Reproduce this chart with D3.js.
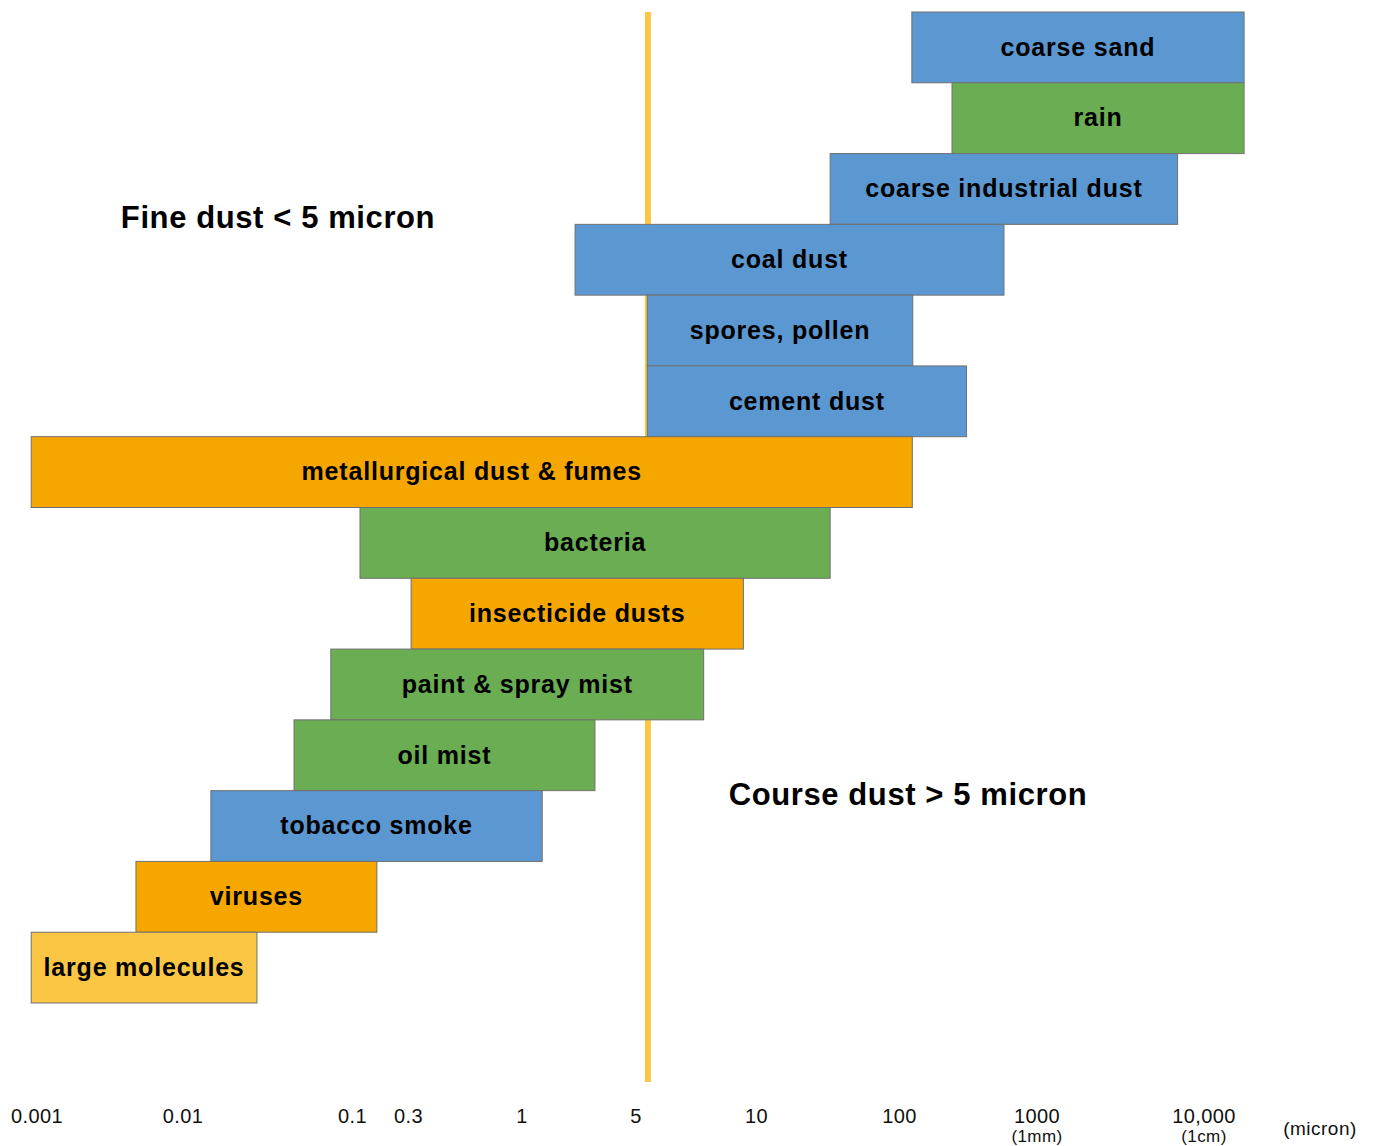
<!DOCTYPE html>
<html>
<head>
  <title>Particle sizes</title>
  <script src="https://cdn.jsdelivr.net/npm/d3@7"></script>
  <style>
    body { margin: 0; background: #fff; font-family: "Liberation Sans", Arial, sans-serif; }
    svg { display: block; }
  </style>
</head>
<body>
  <div id="chart"></div>
  <script>
    // particle types, top to bottom
    const names = ["coarse sand", "rain", "coarse industrial dust", "coal dust", "spores, pollen",
      "cement dust", "metallurgical dust & fumes", "bacteria", "insecticide dusts",
      "paint & spray mist", "oil mist", "tobacco smoke", "viruses", "large molecules"];
    // size range in micron
    const lows  = [124, 243, 33, 2.13, 5.35, 5.35, 0.00092, 0.117, 0.31, 0.075, 0.0455, 0.0147, 0.0048, 0.00092];
    const highs = [17500, 17500, 7000, 580, 126, 310, 125, 33, 9.3, 7.4, 2.82, 1.34, 0.163, 0.0275];
    const groups = ["b", "g", "b", "b", "b", "b", "o", "g", "o", "g", "g", "b", "o", "y"];

    const tickValues = [0.001, 0.01, 0.1, 0.3, 1, 5, 10, 100, 1000, 10000];
    const tickLabels = ["0.001", "0.01", "0.1", "0.3", "1", "5", "10", "100", "1000", "10,000"];
    const subLabels = {1000: "(1mm)", 10000: "(1cm)"};
    const threshold = 5.37; // where the 5 micron line is drawn

    const width = 1373, height = 1146;

    const svg = d3.select("#chart").append("svg")
      .attr("width", width)
      .attr("height", height);

    // the diagram's axis is not a regular log scale, so piecewise
    const x = d3.scaleLog()
      .domain(tickValues)
      .range([36.5, 182.5, 352, 408, 521.5, 635.5, 756, 899, 1036.5, 1203.5]);

    const y = d3.scaleBand()
      .domain(names)
      .range([12, 1003])
      .padding(0);

    const color = d3.scaleOrdinal()
      .domain(["b", "g", "o", "y"])
      .range(["#5b97d0", "#6aad52", "#f5a700", "#fbc643"]);

    const rows = names.map((n, i) => ({name: n, lo: lows[i], hi: highs[i], group: groups[i]}));

    // 5 micron divider, behind the bars
    svg.append("line")
      .attr("x1", x(threshold)).attr("x2", x(threshold))
      .attr("y1", 12).attr("y2", 1082)
      .attr("stroke", "#fdc544")
      .attr("stroke-width", 6);

    svg.selectAll("rect.bar")
      .data(rows)
      .join("rect")
        .attr("class", "bar")
        .attr("x", d => x(d.lo))
        .attr("y", d => y(d.name))
        .attr("width", d => x(d.hi) - x(d.lo))
        .attr("height", y.bandwidth())
        .attr("fill", d => color(d.group))
        .attr("stroke", "#707070")
        .attr("stroke-width", 1);

    svg.selectAll("text.label")
      .data(rows)
      .join("text")
        .attr("class", "label")
        .attr("x", d => (x(d.lo) + x(d.hi)) / 2)
        .attr("y", d => y(d.name) + y.bandwidth() / 2)
        .attr("dy", "0.33em")
        .attr("text-anchor", "middle")
        .style("font-size", "25px")
        .style("font-weight", "bold")
        .style("letter-spacing", "0.8px")
        .text(d => d.name);

    svg.append("text")
      .attr("x", 278).attr("y", 228)
      .attr("text-anchor", "middle")
      .style("font-size", "31px").style("font-weight", "bold").style("letter-spacing", "0.6px")
      .text("Fine dust < 5 micron");

    svg.append("text")
      .attr("x", 908).attr("y", 805)
      .attr("text-anchor", "middle")
      .style("font-size", "31px").style("font-weight", "bold").style("letter-spacing", "0.6px")
      .text("Course dust > 5 micron");

    // axis
    const axis = svg.append("g")
      .attr("transform", "translate(0,1106)")
      .call(d3.axisBottom(x)
        .tickValues(tickValues)
        .tickSize(0)
        .tickPadding(3)
        .tickFormat((d, i) => tickLabels[i]));
    axis.select(".domain").remove();
    axis.selectAll("text")
      .attr("fill", "#111")
      .style("font-family", "'Liberation Sans', Arial, sans-serif")
      .style("font-size", "20px")
      .style("letter-spacing", "0.4px");

    const sub = svg.append("g")
      .attr("transform", "translate(0,1128)")
      .call(d3.axisBottom(x)
        .tickValues([1000, 10000])
        .tickSize(0)
        .tickPadding(2)
        .tickFormat(d => subLabels[d]));
    sub.select(".domain").remove();
    sub.selectAll("text")
      .attr("fill", "#111")
      .style("font-family", "'Liberation Sans', Arial, sans-serif")
      .style("font-size", "17px")
      .style("letter-spacing", "0.4px");

    svg.append("text")
      .attr("x", 1320).attr("y", 1135)
      .attr("text-anchor", "middle")
      .attr("fill", "#111")
      .style("font-size", "19px")
      .style("letter-spacing", "0.5px")
      .text("(micron)");
  </script>
</body>
</html>
